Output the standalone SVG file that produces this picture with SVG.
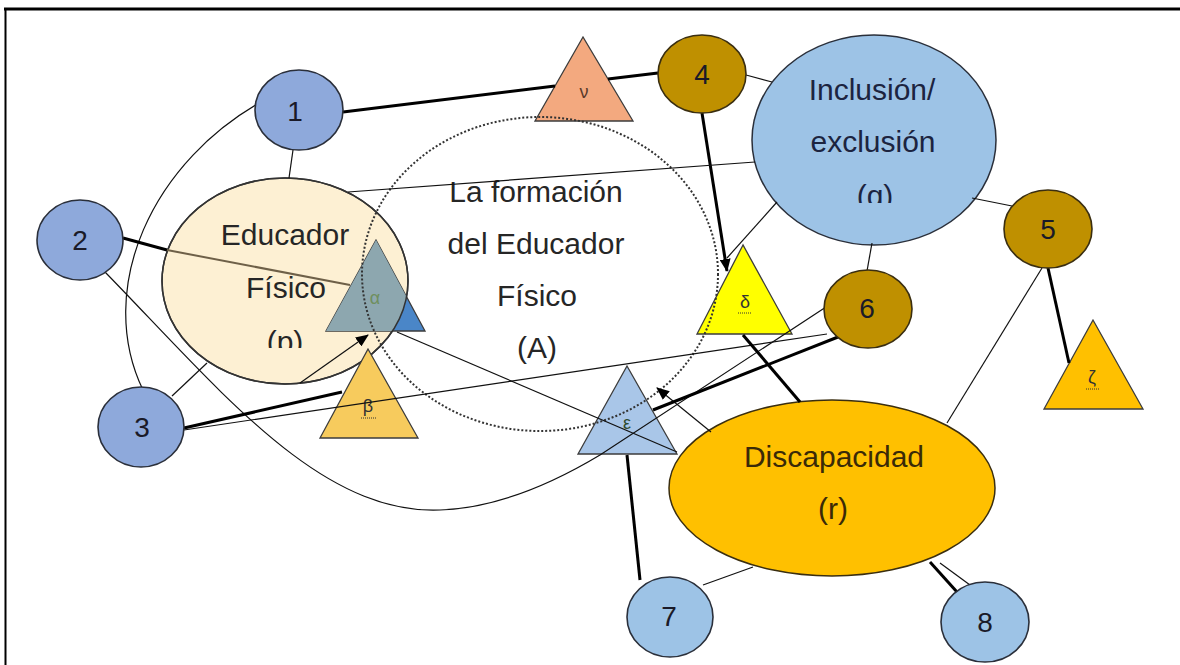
<svg xmlns="http://www.w3.org/2000/svg" width="1180" height="665" viewBox="0 0 1180 665">
<style>
.lbl{font-family:'Liberation Sans',Arial,sans-serif;font-size:30px;fill:#262626;text-anchor:middle}
.num{font-family:'Liberation Sans',Arial,sans-serif;font-size:28px;fill:#1a1a28;text-anchor:middle}
.tl{font-family:'Liberation Sans',Arial,sans-serif;font-size:18px;fill:#333;text-anchor:middle}
.cb{fill:#8EA9DB;stroke:#2a2f3a;stroke-width:1.6}
.cl{fill:#9DC3E6;stroke:#2a2f3a;stroke-width:1.6}
.cg{fill:#BF9000;stroke:#3a2e10;stroke-width:1.6}
.tri{stroke:#3c3c3c;stroke-width:1.3;stroke-linejoin:miter}
.thin{stroke:#111;stroke-width:1.2;fill:none}
.thick{stroke:#000;stroke-width:3;fill:none}
.sq{stroke:#333;stroke-width:1;stroke-dasharray:1 1;fill:none}
</style>
<defs>
<marker id="arr" markerWidth="13" markerHeight="11" refX="12" refY="5.5" orient="auto" markerUnits="userSpaceOnUse"><path d="M0,0 L13,5.5 L0,11 z" fill="#000"/></marker>
<clipPath id="clipEdu"><ellipse cx="285" cy="281" rx="123" ry="103"/></clipPath>
<clipPath id="clipP"><rect x="0" y="0" width="1180" height="348"/></clipPath>
<clipPath id="clipQ"><rect x="0" y="0" width="1180" height="203"/></clipPath>
</defs>
<rect x="0" y="0" width="1180" height="665" fill="#fff"/>
<g id="frame">
<line x1="4" y1="9" x2="1180" y2="9" stroke="#000" stroke-width="3"/>
<line x1="5.5" y1="8" x2="5.5" y2="665" stroke="#000" stroke-width="2"/>
</g>
<g id="node-p">
<ellipse cx="285" cy="281" rx="123" ry="103" fill="#FDF0D3" stroke="#333" stroke-width="1.5"/>
</g>
<g id="node-alpha">
<polygon class="tri" points="376,240 326,331 425,331" fill="#4A86C8"/>
<polygon points="376,240 326,331 425,331" fill="#8DA7AF" clip-path="url(#clipEdu)"/>
<ellipse cx="285" cy="281" rx="123" ry="103" fill="none" stroke="#333" stroke-width="1.5"/>
<text class="tl" x="375" y="304" style="fill:#6f8f5f">α</text>
</g>
<g id="node-p-text">
<text class="lbl" x="285" y="245">Educador</text>
<text class="lbl" x="286" y="298">Físico</text>
<text class="lbl" x="285" y="352" clip-path="url(#clipP)">(p)</text>
</g>
<g id="node-q">
<ellipse cx="874" cy="140" rx="122" ry="105" fill="#9DC3E6" stroke="#2a2f3a" stroke-width="1.5"/>
<text class="lbl" x="872" y="100" style="fill:#1c2440">Inclusión/</text>
<text class="lbl" x="873" y="152" style="fill:#1c2440">exclusión</text>
<text class="lbl" x="875" y="206" clip-path="url(#clipQ)" style="fill:#1c2440">(q)</text>
</g>
<g id="node-r">
<ellipse cx="832" cy="488" rx="163" ry="88" fill="#FFC000" stroke="#3a2e10" stroke-width="1.5"/>
<text class="lbl" x="834" y="467" style="fill:#3a2a08">Discapacidad</text>
<text class="lbl" x="833" y="519" style="fill:#3a2a08">(r)</text>
</g>
<g id="node-nu">
<polygon class="tri" points="583,37 535,121 633,121" fill="#F3A97F"/>
<text class="tl" x="584" y="98" style="fill:#5a3a2a">ν</text>
</g>
<g id="node-beta">
<polygon class="tri" points="368,349 320,438 418,438" fill="#F7CB5D"/>
<text class="tl" x="368" y="412">β</text>
<line class="sq" x1="361" y1="418" x2="376" y2="418"/>
</g>
<g id="node-delta">
<polygon class="tri" points="743,245 697,334 792,334" fill="#FFFF00"/>
<text class="tl" x="745" y="308">δ</text>
<line class="sq" x1="738" y1="313" x2="752" y2="313"/>
</g>
<g id="node-epsilon">
<polygon class="tri" points="627,366 578,454 677,454" fill="#A9C6E8"/>
<text class="tl" x="627" y="429" style="fill:#2d4a2d">ε</text>
</g>
<g id="node-zeta">
<polygon class="tri" points="1093,320 1044,409 1143,409" fill="#FFC000"/>
<text class="tl" x="1092" y="383">ζ</text>
<line class="sq" x1="1086" y1="389" x2="1099" y2="389"/>
</g>
<g id="node-A">
<ellipse cx="540" cy="274" rx="178" ry="157" fill="none" stroke="#333" stroke-width="2" stroke-dasharray="2 2"/>
<text class="lbl" x="536" y="202">La formación</text>
<text class="lbl" x="536" y="254">del Educador</text>
<text class="lbl" x="537" y="306">Físico</text>
<text class="lbl" x="537" y="358">(A)</text>
</g>
<g id="connectors">
<line class="thick" x1="343" y1="112" x2="555" y2="86"/>
<line class="thick" x1="608" y1="79" x2="658" y2="73"/>
<line class="thin" x1="746" y1="75" x2="772" y2="82"/>
<line class="thick" x1="702" y1="113" x2="727" y2="271" marker-end="url(#arr)"/>
<line class="thin" x1="293" y1="150" x2="289" y2="178"/>
<line class="thin" x1="348" y1="192" x2="755" y2="162"/>
<path class="thin" d="M270,97 C150,160 95,290 143,390"/>
<line class="thick" x1="123" y1="238" x2="167" y2="250"/>
<line x1="167" y1="250" x2="350" y2="285" stroke="#6e6048" stroke-width="2"/>
<path class="thin" d="M105,272 C220,390 320,515 440,510 C500,508 555,482 600,455 L826,307"/>
<line class="thin" x1="172" y1="396" x2="207" y2="363"/>
<line class="thick" x1="184" y1="428" x2="342" y2="392"/>
<line class="thin" x1="184" y1="430" x2="827" y2="334"/>
<line class="thin" x1="300" y1="383" x2="368" y2="335" marker-end="url(#arr)"/>
<line class="thin" x1="397" y1="332" x2="677" y2="452"/>
<line class="thin" x1="711" y1="432" x2="657" y2="388" marker-end="url(#arr)"/>
<line class="thick" x1="838" y1="337" x2="653" y2="410"/>
<line class="thick" x1="743" y1="335" x2="800" y2="402"/>
<line class="thick" x1="627" y1="455" x2="640" y2="580"/>
<line class="thin" x1="703" y1="585" x2="753" y2="567"/>
<line class="thick" x1="930" y1="562" x2="957" y2="592"/>
<line class="thin" x1="940" y1="563" x2="970" y2="585"/>
<line class="thin" x1="1042" y1="268" x2="947" y2="423"/>
<line class="thick" x1="1048" y1="268" x2="1069" y2="363"/>
<line class="thin" x1="972" y1="198" x2="1012" y2="206"/>
<line class="thin" x1="872" y1="243" x2="867" y2="271"/>
<line class="thin" x1="777" y1="202" x2="727" y2="258"/>
</g>
<g id="node-1"><ellipse class="cb" cx="299" cy="110" rx="44" ry="40"/><text class="num" x="295" y="121">1</text></g>
<g id="node-2"><ellipse class="cb" cx="80" cy="240" rx="43" ry="40"/><text class="num" x="80" y="250">2</text></g>
<g id="node-3"><ellipse class="cb" cx="141" cy="427" rx="43" ry="40"/><text class="num" x="142" y="437">3</text></g>
<g id="node-4"><ellipse class="cg" cx="702" cy="74" rx="44" ry="39"/><text class="num" x="702" y="84">4</text></g>
<g id="node-5"><ellipse class="cg" cx="1048" cy="229" rx="44" ry="39"/><text class="num" x="1048" y="239">5</text></g>
<g id="node-6"><ellipse class="cg" cx="868" cy="309" rx="44" ry="39"/><text class="num" x="867" y="318">6</text></g>
<g id="node-7"><ellipse class="cl" cx="670" cy="617" rx="43" ry="40"/><text class="num" x="669" y="626">7</text></g>
<g id="node-8"><ellipse class="cl" cx="985" cy="622" rx="44" ry="40"/><text class="num" x="985" y="632">8</text></g>
</svg>
